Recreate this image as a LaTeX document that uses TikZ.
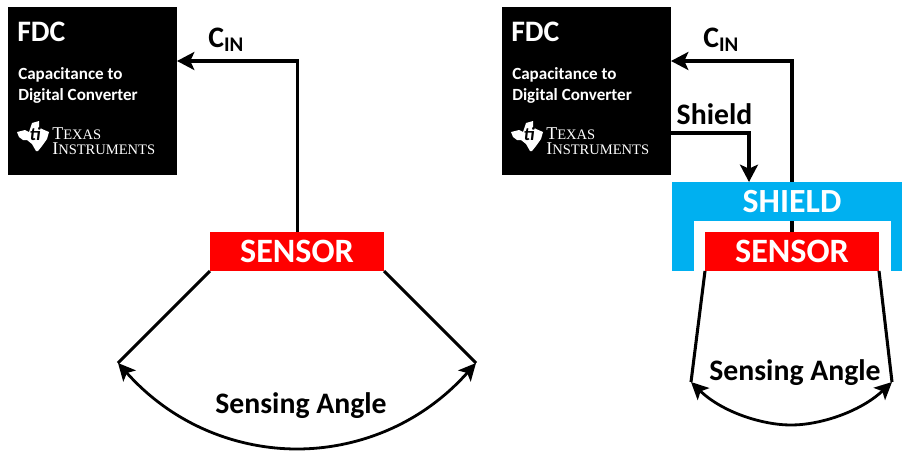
\documentclass[tikz,border=0pt]{standalone}
\usepackage{fontspec}
\setmainfont{Carlito}
\newfontfamily\tifont{Liberation Serif}
\usetikzlibrary{arrows.meta}
\definecolor{shieldblue}{RGB}{0,176,240}
\newcommand{\tibig}{\fontsize{13.5}{13.5}\selectfont}
\newcommand{\tismall}{\fontsize{10.9}{10.9}\selectfont}
\tikzset{
  x=0.75pt,y=-0.75pt,
  wire/.style={line width=2.3pt,line cap=butt,line join=miter},
  arrowed/.style={wire,-{Stealth[length=13pt,width=13.5pt,inset=3pt]}},
  twoheads/.style={line width=2.1pt,{Stealth[length=13pt,width=12.5pt,inset=3pt]}-{Stealth[length=13pt,width=12.5pt,inset=3pt]}},
  blackbox/.style={fill=black,draw=none,minimum width=126.75pt,minimum height=126pt,outer sep=0pt,inner sep=0pt},
  sensorbox/.style={fill=red,draw=none,text=white,minimum width=130.5pt,minimum height=29.25pt,outer sep=0pt,inner sep=0pt,font=\bfseries\fontsize{25.6}{27}\selectfont},
  shieldbar/.style={fill=shieldblue,draw=none,minimum width=172.5pt,minimum height=29.25pt,outer sep=0pt,inner sep=0pt},
  shieldtext/.style={text=white,inner sep=0pt,font=\bfseries\fontsize{25.4}{27}\selectfont},
  shieldleg/.style={fill=shieldblue,draw=none,minimum height=37.5pt,outer sep=0pt,inner sep=0pt},
  title/.style={text=white,anchor=west,inner sep=0pt,font=\bfseries\fontsize{22.3}{24}\selectfont},
  subtitle/.style={text=white,anchor=west,inner sep=0pt,align=left,font=\bfseries\fontsize{12.8}{15.8}\selectfont},
  label/.style={inner sep=0pt,font=\bfseries\fontsize{22.3}{24}\selectfont},
  ticap/.style={text=white,anchor=west,inner sep=0pt,align=left,font=\tifont\fontsize{13.5}{11.3}\selectfont},
  texas/.pic={
    \fill[white] (0,13) -- (8,11) -- (12,13) -- (15,4) -- (22,2) -- (22,8) -- (25,10) -- (32,13) -- (30,20) -- (25,27) -- (21,32) -- (19,32) -- (15,25) -- (10,21) -- (6,21) -- (2,18) -- cycle;
    \node[inner sep=0pt,text=black,font=\bfseries\itshape\fontsize{14}{14}\selectfont] at (18,15) {ti};
  },
}
\begin{document}
\begin{tikzpicture}
\useasboundingbox (0,0) rectangle (902,450);

% ---------- left diagram ----------
\node[blackbox] (fdcL) at (92.5,91) {};
\node[title] (fdcLt) at (17,32) {FDC};
\node[subtitle] (fdcLs) at (18,85) {Capacitance to\\Digital Converter};
\pic at (17,119) {texas};
\node[ticap] (tiL) at (52,141) {\tibig T\tismall EXAS\\\tibig I\tismall NSTRUMENTS};

\node[sensorbox] (sensorL) at (297,251.5) {SENSOR};
\coordinate (cornerL) at (297.5,61);
\coordinate (inL) at (177,61);
\draw[arrowed] (sensorL.north -| cornerL) -- (cornerL) -- (inL);
\node[label,anchor=base west] (cinL) at (208,47) {C\textsubscript{IN}};

\coordinate (leftL) at (118,363);
\coordinate (rightL) at (476,363);
\draw[wire] (sensorL.south west) -- (leftL);
\draw[wire] (sensorL.south east) -- (rightL);
\draw[twoheads] (leftL) .. controls (175,427) and (240,449) .. (297,449) .. controls (354,449) and (419,427) .. (rightL);
\node[label] (angleL) at (301,405.5) {Sensing Angle};

% ---------- right diagram ----------
\node[blackbox] (fdcR) at (586.5,91) {};
\node[title] (fdcRt) at (511,32) {FDC};
\node[subtitle] (fdcRs) at (512,85) {Capacitance to\\Digital Converter};
\pic at (511,119) {texas};
\node[ticap] (tiR) at (546,141) {\tibig T\tismall EXAS\\\tibig I\tismall NSTRUMENTS};

\node[sensorbox] (sensorR) at (792,251.5) {SENSOR};
\coordinate (cornerR) at (792,61);
\coordinate (inR) at (671,61);
\draw[arrowed] (sensorR.north -| cornerR) -- (cornerR) -- (inR);
\node[label,anchor=base west] (cinR) at (703,47) {C\textsubscript{IN}};

\node[shieldbar] (shieldtop) at (787,201.5) {};
\node[shieldtext] (shieldname) at (792,201.5) {SHIELD};
\node[shieldleg,minimum width=16.5pt] (legL) at (683,246) {};
\node[shieldleg,minimum width=8.25pt] (legR) at (896.5,246) {};

\coordinate (outS) at (671,133);
\coordinate (cornerS) at (749,133);
\draw[arrowed] (outS) -- (cornerS) -- (cornerS |- shieldtop.north);
\node[label] (shieldlab) at (714.5,114) {Shield};

\coordinate (leftR) at (691,382);
\coordinate (rightR) at (892,382);
\draw[wire] (sensorR.south west) -- (leftR);
\draw[wire] (sensorR.south east) -- (rightR);
\draw[twoheads] (leftR) .. controls (722,412) and (762,425) .. (791,425) .. controls (820,425) and (860,412) .. (rightR);
\node[label] (angleR) at (795,372.5) {Sensing Angle};
\end{tikzpicture}
\end{document}
